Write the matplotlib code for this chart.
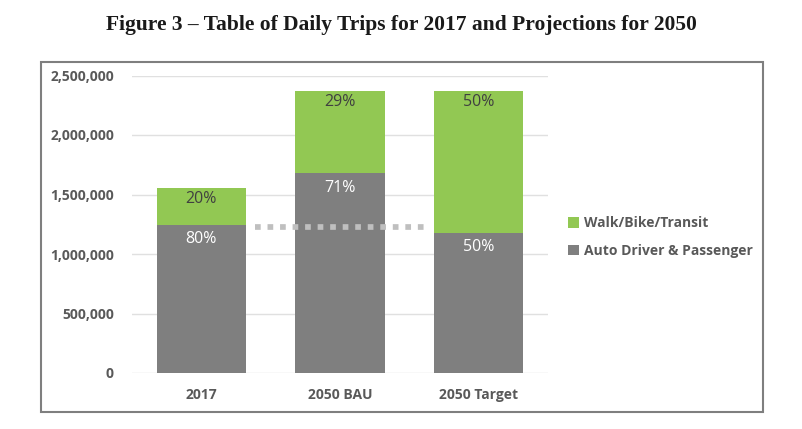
import matplotlib
matplotlib.use("Agg")
import matplotlib.pyplot as plt
from matplotlib.patches import Rectangle

categories = ["2017", "2050 BAU", "2050 Target"]
auto = [1245000, 1680000, 1180000]
active = [310000, 690000, 1190000]
auto_pct = ["80%", "71%", "50%"]
active_pct = ["20%", "29%", "50%"]
ref_level = 1225000
yticks = [0, 500000, 1000000, 1500000, 2000000, 2500000]

W, H = 803, 429
fig = plt.figure(figsize=(W / 100, H / 100), dpi=100)

# outer frame
fig.patches.append(Rectangle((41 / W, 1 - 412 / H), (763 - 41) / W, (412 - 62) / H,
                             transform=fig.transFigure, fill=False,
                             edgecolor="#7f7f7f", linewidth=1.5))

fig.text(0.5, 1 - 25 / H, "Figure 3 \u2013 Table of Daily Trips for 2017 and Projections for 2050",
         ha="center", va="center", fontsize=15.5, fontweight="bold",
         family="Liberation Serif", color="#1a1a1a")

ax = fig.add_axes([132 / W, 1 - 373 / H, (548 - 132) / W, (373 - 75.5) / H])
x = list(range(len(categories)))
green = "#92c853"
gray = "#7f7f7f"
b1 = ax.bar(x, auto, width=0.645, color=gray, label="Auto Driver & Passenger", zorder=2)
b2 = ax.bar(x, active, bottom=auto, width=0.645, color=green, label="Walk/Bike/Transit", zorder=2)

ax.plot([0.39, 1.635], [ref_level, ref_level], color="#bfbfbf", linewidth=4.1,
        linestyle=(0, (1, 1.2)), solid_capstyle="butt", dash_capstyle="butt", zorder=3)

for i in x:
    ax.text(i, auto[i] - 122000, auto_pct[i], ha="center", va="center",
            color="white", fontsize=11.5, family="Open Sans")
    ax.text(i, auto[i] + active[i] - 90000, active_pct[i], ha="center", va="center",
            color="#404040", fontsize=11.5, family="Open Sans")

ax.set_xlim(-0.5, 2.5)
ax.set_ylim(0, 2500000)
ax.set_yticks(yticks)
ax.set_yticklabels([f"{v:,}" for v in yticks])
ax.set_xticks(x)
ax.set_xticklabels(categories)
ax.grid(axis="y", color="#e0e0e0", linewidth=1, zorder=0)
for s in ax.spines.values():
    s.set_visible(False)
ax.tick_params(length=0)
ax.tick_params(axis="y", pad=13, labelsize=10, labelcolor="#595959")
ax.tick_params(axis="x", pad=11, labelsize=10, labelcolor="#595959")
for t in ax.get_xticklabels() + ax.get_yticklabels():
    t.set_fontweight("bold")
    t.set_family("Open Sans")

handles = [b2, b1]
leg = fig.legend(handles, ["Walk/Bike/Transit", "Auto Driver & Passenger"],
                 loc="center left", bbox_to_anchor=(556 / W, 1 - 237 / H),
                 frameon=False, handlelength=0.75, handleheight=0.75,
                 handletextpad=0.35, labelspacing=0.95,
                 prop={"family": "Open Sans", "weight": "bold", "size": 10})
for t in leg.get_texts():
    t.set_color("#595959")

fig.savefig("out.png", dpi=100)
